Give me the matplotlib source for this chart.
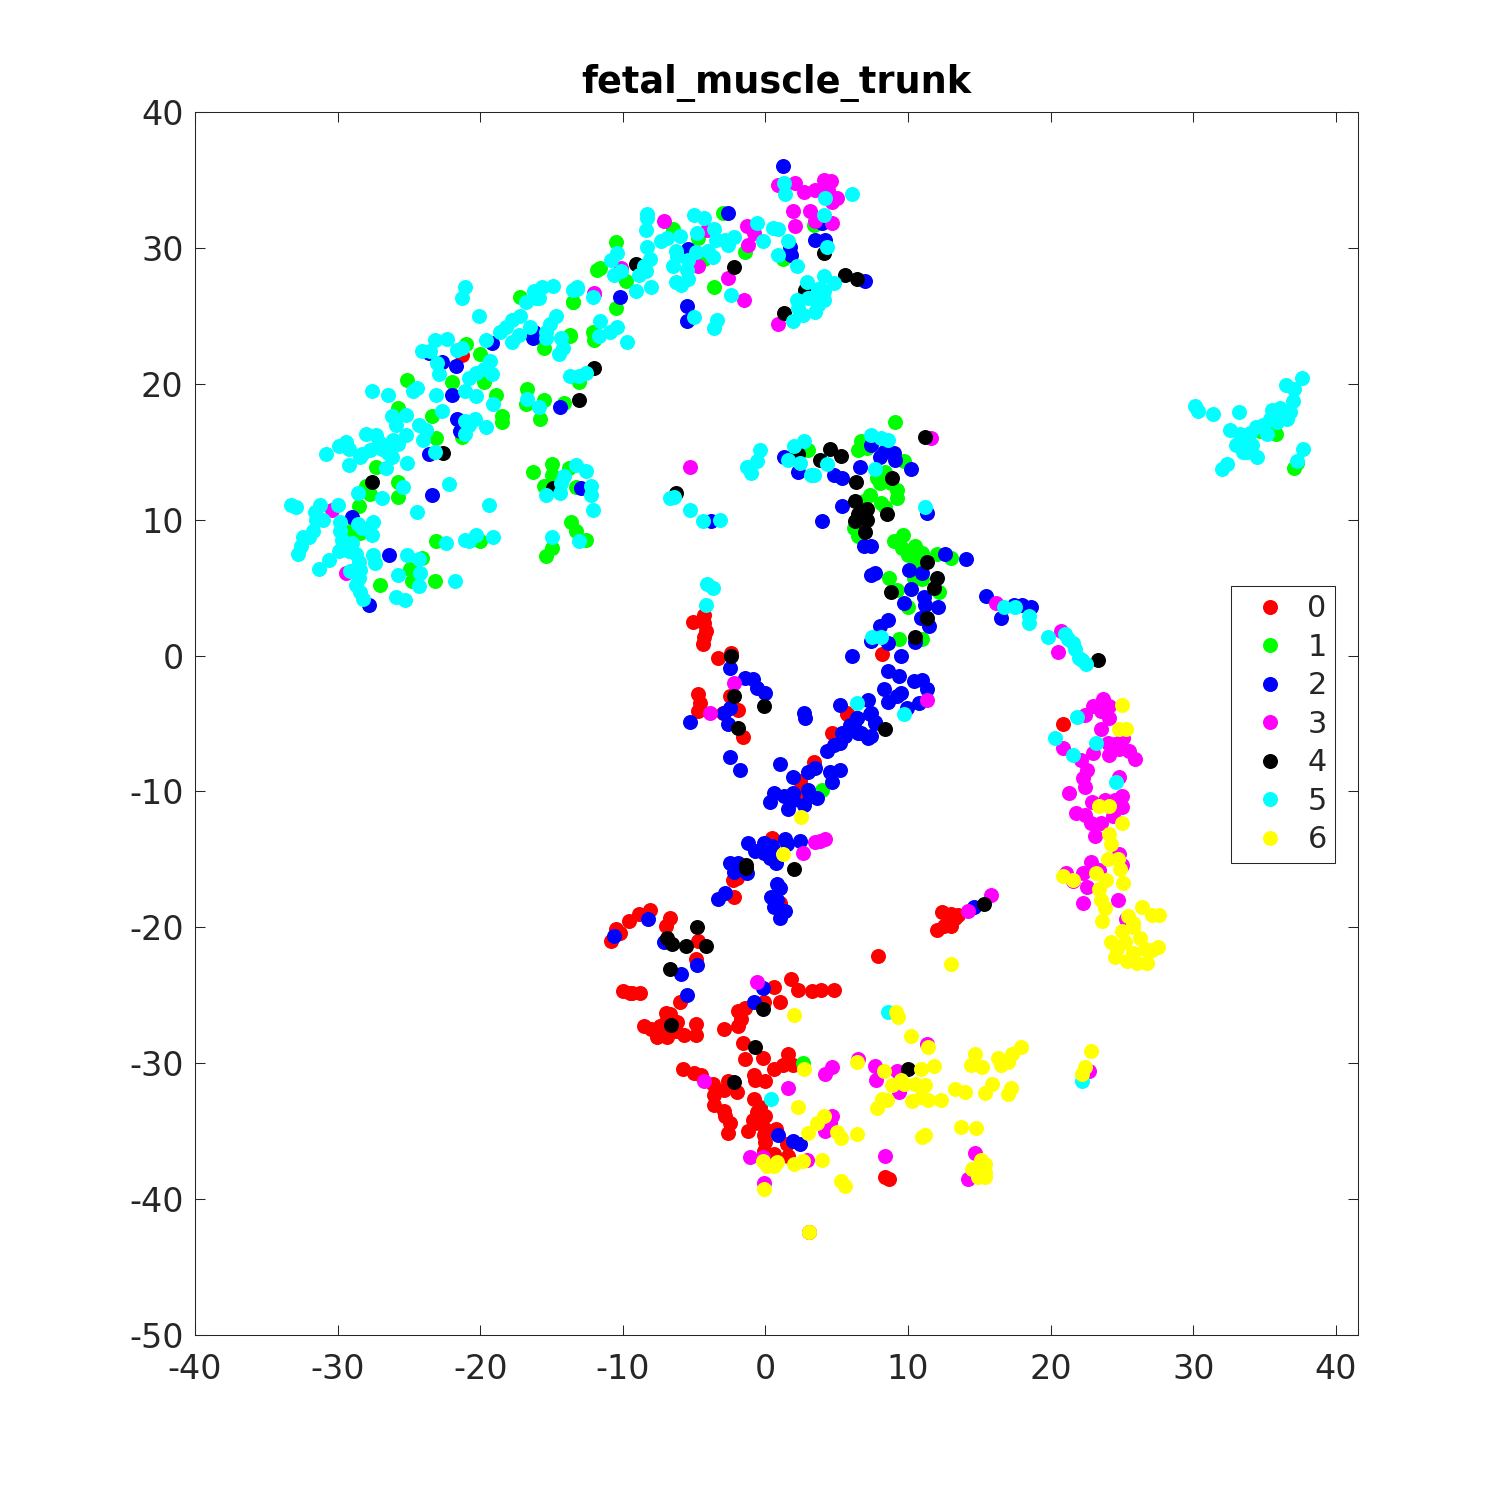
import matplotlib
matplotlib.use('Agg')
import matplotlib.pyplot as plt
import numpy as np

plt.rcParams['axes.unicode_minus'] = False

labels = ['0', '1', '2', '3', '4', '5', '6']
colors = ['#ff0000', '#00ff00', '#0000ff', '#ff00ff', '#000000', '#00ffff', '#ffff00']

pts0 = [(-21.3,22.1),(-5.1,2.5),(-4.3,3),(-4.3,2.4),(-4.2,1.8),(-4.3,1.4),(-4.4,0.85),(-3.3,-0.2),(-2.4,0.2),(8.2,0.1),
        (-4.7,-2.8),(-4.6,-3.5),(-4.7,-4.1),(-3,-4.2),(-1.9,-4),(-2.45,-2.95),(-1.6,-6),(5.7,-4.2),(4.7,-5.7),(3.4,-7.8),
        (5.7,-4.3),(2.45,-9.2),(2.3,-10.2),(0.46,-13.4),(-2.3,-16.5),(-2,-16.35),(-2.2,-17.8),(1.05,-18.2),(-10.8,-21),
        (-10.5,-20.15),(-10.2,-20.4),(-9.6,-19.5),(-8.9,-19),(-8.1,-18.7),(-6.7,-19.3),(-6.95,-19.9),(-4.7,-21),(-4.9,-22.3),
        (7.9,-22.1),(-10,-24.7),(-9.5,-24.8),(-8.8,-24.8),(-9.35,-24.8),(-6,-25.5),(-7,-26.3),(-6.7,-26.4),(-8.5,-27.25),
        (-8,-27.5),(-7.6,-28.1),(-6.9,-28.1),(-7.4,-27.25),(-6.2,-27),(-5.7,-27.9),(-4.9,-27.1),(-4.9,-27.9),(-6.3,-27.6),
        (-7,-27),(-2.9,-27.5),(-1.9,-26.15),(-1.4,-25.9),(-1.7,-26.75),(-1.9,-27.25),(-0.1,-25.5),(0.6,-24.4),(1.05,-25.5),
        (1.8,-23.8),(2.3,-24.6),(3.3,-24.7),(3.9,-24.6),(4.8,-24.6),(-1.6,-28.5),(-1.4,-29.7),(-0.2,-29.6),(-0.8,-30.9),
        (-0.7,-31.2),(0,-31.3),(0.6,-30.4),(1.2,-30.1),(1.6,-29.3),(1.9,-30.1),(-5.8,-30.4),(-5,-30.7),(-4.5,-30.9),
        (-3.7,-31.5),(-2.6,-31.3),(-2,-32.1),(-2.9,-32),(-3.6,-32.35),(-3.6,-33.1),(-2.9,-33.5),(-2.8,-33.9),(-2.5,-34.4),
        (-2.6,-35.15),(-0.8,-32.6),(-0.35,-33.25),(-0.6,-33.6),(0,-33.9),(-0.9,-34.2),(-0.7,-34.4),(-1.25,-35),(0,-34.85),
        (0.75,-34.85),(-0.1,-35.3),(0,-35.8),(-0.1,-36.45),(0.6,-36.7),(1.6,-36.8),(1.5,-35.95),(8.65,-38.5),(8.4,-38.4),
        (12,-20.2),(12.4,-18.9),(12.8,-19.8),(13,-19.9),(13.3,-19.3),(13.5,-19.1),(12.5,-19.9),(13,-19),(20.9,-5),(3.05,-42.45)]

pts1 = [(-25.1,20.3),(-21,22.9),(-20,22.2),(-22,20.1),(-19.7,20.1),(-18.9,19.2),(-23.4,17.6),(-25.8,18.2),(-23.1,16),
        (-18.5,17.6),(-18.5,17.2),(-21.3,16.1),(-17.2,26.4),(-13.5,26),(-11.8,28.4),(-15.5,22.6),(-13.7,23.6),(-12,23.7),
        (-12,23.2),(-13.1,20.1),(-16.7,19.6),(-15.5,18.8),(-16.8,18.5),(-15.8,17.4),(-14.1,18.6),(-27.3,13.9),(-25.8,12.8),
        (-25.8,11.7),(-28,12.5),(-27.7,11.9),(-28.5,11),(-29.1,9.2),(-28.4,9),(-23.1,8.4),(-20,8.4),(-24.1,7.2),(-24.9,6.4),
        (-24.8,5.5),(-23.2,5.5),(-27,5.2),(-16.3,13.5),(-15,14.1),(-15,13.3),(-13.8,13.8),(-15.5,12.5),(-13.3,12.4),
        (-13.6,9.8),(-13.3,9.2),(-12.6,8.5),(-15,7.9),(-15.4,7.3),(-10.5,30.4),(-11.6,28.5),(-9.8,27.6),(-10.5,25.6),
        (-13.5,26),(-6.5,31.4),(-4.7,30.7),(-4.3,29.2),(-3.6,27.1),(-1.4,29.7),(-3,32.6),(1.2,29.2),(3.4,31.7),(-13.7,23.5),
        (-12.1,23.8),(9.1,17.2),(6.7,15.8),(6.5,15.1),(7.1,15.3),(9.7,14.3),(3,15.1),(8.4,13.5),(7.8,13.1),(8,12.7),(8.8,12.7),
        (9.2,12.2),(9.2,11.6),(7.3,11.8),(6.9,11.4),(8.1,11.2),(8.4,10.9),(6.2,9.4),(6.5,8.8),(9,8.4),(9.65,8.9),(9.6,7.9),
        (10.5,8.1),(10,7.4),(11,7.55),(10.5,6.9),(12,7.5),(13,7.2),(10.4,5.7),(11,5.6),(8.7,5.7),(9.2,4.85),(12.2,4.7),
        (10,3.55),(9.4,1.2),(11,1.2),(4,-9.9),(2.6,-30),(37.1,13.8),(37.3,14.2),(35.5,16.8),(34.7,16.5),(35.8,16.3)]

pts2 = [(-19.2,23),(-23.6,22.3),(-22.7,21.6),(-21.7,21.3),(-22,19.2),(-21.6,17.4),(-21.4,16.5),(-16.2,23.8),(-16.3,23.4),
        (-14.4,18.3),(-23.6,14.8),(-23.4,11.8),(-29,10.2),(-26.4,7.4),(-27.8,3.7),(-12.9,12.3),(1.2,36),(-2.6,32.6),(-5.4,29.9),
        (-10.2,26.4),(-5.5,25.7),(-5.5,24.6),(1.7,30.1),(1.8,29.5),(3.5,30.6),(4.2,30.6),(7,27.6),(4,31.8),(1.3,14.6),(2.3,13.5),
        (4.8,13.3),(5.4,13.1),(6.6,13.9),(7.4,15.5),(8,14.6),(8.3,15),(9,14.9),(9.1,14.4),(10.2,13.7),(5.4,11),(4,9.9),(6.9,8.1),
        (7.4,8.1),(-3.8,9.9),(11.3,10.5),(12.6,7.5),(14.1,7.1),(7.4,5.9),(7.7,6.1),(10.1,6.3),(11,6.1),(10.2,4.9),(9.7,3.9),
        (11.1,4.3),(11.2,3.7),(12.1,3.6),(10.9,2.8),(11.5,2.15),(8.6,2.6),(8,2.15),(7.4,1.05),(8.6,0.9),(10.5,1),(6.1,0),(9.5,0),
        (8.6,-1.15),(9.4,-1.5),(10.4,-1.9),(11,-1.8),(11.3,-2.45),(8.3,-2.45),(8.6,-3.4),(9.2,-3),(9.5,-2.75),(10.75,-3.5),
        (9.9,-3.85),(-2.45,-0.9),(-1.45,-1.65),(-0.9,-1.75),(-0.6,-2.35),(-0.05,-2.75),(-2.45,-3.85),(-2.9,-4.2),(-2.6,-5),
        (-5.3,-4.9),(2.7,-4.2),(2.8,-4.6),(5.2,-3.6),(7.2,-3.3),(7.4,-4.2),(7.65,-4.9),(6.4,-4.6),(5.96,-5.1),(5.4,-5.7),(6.7,-5.7),
        (7.4,-5.9),(-2.5,-7.5),(-1.8,-8.4),(1.05,-8),(4.3,-7.04),(4.8,-6.55),(5.25,-6.4),(5.6,-5.9),(5.85,-5.45),(6.2,-5.2),
        (6.5,-5.7),(7.2,-6.05),(6.4,-4.6),(7.35,-4.3),(7.7,-4.95),(3.5,-8.3),(3,-8.6),(1.9,-8.9),(5.25,-8.4),(4.5,-8.6),(4.7,-9.3),
        (0.6,-10.1),(0.35,-10.8),(1.3,-10.35),(1.9,-10.1),(1.9,-10.6),(1.6,-11.3),(3,-9.9),(3.15,-10.35),(3.65,-10.5),(2.7,-11),
        (-1.2,-13.8),(-0.7,-14.4),(-0.1,-13.8),(0.46,-14),(1.4,-13.5),(1.5,-13.9),(2.4,-13.65),(-0.1,-14.5),(0.35,-14.9),
        (0.75,-15.3),(-2.5,-15.3),(-1.9,-15.25),(-2.2,-15.9),(-1.3,-16),(-2.8,-17.45),(-3.3,-17.9),(0.8,-16.8),(1,-17.1),
        (0.4,-17.75),(0.8,-18),(0.6,-18.5),(1.4,-18.8),(1.05,-19.3),(-8.2,-19.4),(-10.6,-20.6),(-7.1,-21.1),(-4.8,-22.8),
        (-5.9,-23.4),(-5.5,-25),(-0.2,-24.5),(0.9,-35.3),(1.9,-35.75),(2.45,-35.95),(-0.8,-25.5),(14.6,-18.5),(15.5,4.4),
        (16.5,2.8),(17.4,3.75),(18.6,3.6),(18,3.7)]

pts3 = [(-12,26.6),(-30.4,10.7),(-29.4,6.1),(-7.1,32),(-10.1,28.5),(-12,26.7),(-4.1,31.3),(-4.7,28.7),(-2.6,27.8),(-1.5,26.2),
        (-1.3,31.6),(-0.8,31.1),(-1.2,30.2),(0.9,34.6),(2.1,34.8),(2.7,34.1),(3.5,34.3),(4.1,35),(4.6,34.9),(4.4,34.3),(5,33.7),
        (4.7,33.4),(1.9,32.7),(3.1,32.7),(2.1,31.6),(3.5,32),(4.7,31.8),(0.9,24.4),(-5.3,13.9),(11.6,16),(-2.2,-2),(11.3,-3.3),
        (-3.9,-4.2),(2.6,-14.5),(3.5,-13.7),(3.85,-13.65),(4.2,-13.5),(-0.6,-24),(-4.3,-31.3),(1.6,-31.8),(4.7,-30.3),(4.2,-30.8),
        (6.5,-29.7),(7.7,-30.2),(7.75,-31.2),(9.2,-30.55),(9.4,-32.1),(4.7,-33.9),(4.55,-34.4),(4.2,-35),(-1.05,-36.9),(2.9,-37.1),
        (-0.1,-38.8),(8.4,-36.85),(-0.2,-36.9),(14.7,-36.6),(14.2,-38.5),(22.7,-30.6),(11.3,-28.6),(14.2,-18.8),(15.85,-17.65),
        (16.2,3.9),(20.7,1.8),(20.5,0.3),(23.7,-3.2),(23,-3.7),(23.5,-4.1),(24.1,-3.7),(24.1,-4.6),(22.4,-4.4),(23.5,-5.4),(23,-7.15),
        (24.1,-7.35),(24,-6.4),(24.5,-6.5),(25.1,-6.05),(24.8,-6.9),(25.5,-7),(25.9,-7.6),(20.9,-6.8),(22.15,-7.7),(22.55,-8.4),
        (22.25,-9),(22.4,-9.7),(21.3,-10.1),(24.8,-8.9),(25,-10.3),(24.5,-10.6),(25,-11.15),(24.4,-11.8),(22.9,-10.75),(23.8,-10.6),
        (21.8,-11.6),(22.4,-11.7),(22.8,-12.3),(23.5,-12.3),(23.1,-13.3),(22.8,-15.2),(24.8,-14.6),(25,-15.4),(23.4,-15.8),
        (22.3,-16),(22.55,-17),(22.3,-18.2),(24.7,-18),(21.1,-16),(21.6,-16.6),(25.25,-19.4)]

pts4 = [(-12,21.2),(-13.1,18.8),(-22.6,14.9),(-27.6,12.8),(-14.9,12.3),(-9.1,28.8),(-2.2,28.6),(1.3,25.2),(4.1,29.6),(5.6,28),
        (6.4,27.7),(2.8,26.9),(-6.3,12),(11.2,16.1),(4.55,15.2),(3.8,14.4),(5.3,14.7),(2.3,14.8),(6.35,12.8),(8.9,13.1),(6.3,11.4),
        (7.1,10.8),(6.5,10.4),(6.3,9.9),(7.1,10),(7,9.1),(8.5,10.4),(11.3,6.9),(12,5.7),(11.85,5),(8.8,4.65),(11.3,2.8),(10.5,1.4),
        (-2.4,0),(-2.2,-2.95),(-0.1,-3.7),(-1.9,-5.3),(8.4,-5.4),(-4.8,-20),(-6.9,-20.8),(-6.55,-21.2),(-5.55,-21.4),(-4.2,-21.4),
        (-6.7,-23.1),(2,-15.7),(-1.35,-15.4),(-1.35,-15.6),(-6.6,-27.2),(-0.2,-26),(-0.7,-28.8),(-2.2,-31.35),(10,-30.4),
        (15.35,-18.3),(23.35,-0.3)]

pts5 = [(-33.3,11.1),(-32.9,10.9),(-31.2,11.1),(-30,11.1),(-31.6,10.6),(-31,10),(-31.5,10),(-31.7,9.2),(-32,8.7),(-32.4,8.7),
        (-32.6,8.1),(-32.8,7.5),(-30.6,7),(-31.3,6.4),(-29.8,9.8),(-29.8,9.2),(-29.7,8.5),(-29,8.3),(-29.9,7.7),(-29.2,7.7),
        (-28.7,7.5),(-28.5,6.9),(-28.4,6.3),(-29.1,6.2),(-28.5,5.7),(-28.7,5.2),(-28.4,4.7),(-28.2,4.2),(-28.6,9.7),(-27.5,9.8),
        (-28.3,9.4),(-27.6,8.9),(-27.5,7.4),(-27.4,6.8),(-25.1,7.4),(-24.3,7.1),(-24.2,6.1),(-25.8,5.9),(-24.3,5.1),(-25.9,4.3),
        (-25.3,4.1),(-21.8,5.5),(-24.4,10.6),(-22.4,8.3),(-21.1,8.5),(-20.8,8.4),(-20.3,8.9),(-19.1,8.7),(-19.4,11.1),(-22.2,12.6),
        (-28.6,12),(-26.9,11.6),(-25.4,12.4),(-26.6,13.8),(-29.2,14),(-30.8,14.8),(-29.9,15.4),(-29.4,15.7),(-29.2,15.2),(-28.4,14.6),
        (-28.3,14.8),(-27.7,15.1),(-28,16.3),(-27.3,16.2),(-27.1,15.7),(-26.9,15.2),(-26.5,14.9),(-26.2,14.6),(-26.1,15.9),
        (-25.8,15.6),(-25.2,16.2),(-25.1,14.2),(-26.2,17.6),(-25.9,17),(-25.2,17.7),(-24.3,17),(-23.8,16.6),(-24,15.9),(-22.7,18),
        (-23.2,15),(-27.6,19.5),(-26.5,19.2),(-24.7,19.5),(-24.4,19.7),(-23.1,19.2),(-19.1,18.5),(-21.1,19.5),(-20.3,19.1),
        (-21.1,17.3),(-20.4,17.4),(-20.8,17),(-21.1,16.3),(-19.6,16.8),(-22.9,20.7),(-23,21.5),(-24.1,22.4),(-23.5,22.4),(-23.2,23.2),
        (-22.3,23.3),(-21.6,22.5),(-21.3,22.6),(-19.6,23.2),(-19.3,21.7),(-19.7,21.1),(-19.2,20.7),(-20.3,20.8),(-20.8,20.4),
        (-20.1,25),(-21.3,26.3),(-21.1,27.1),(-18.6,23.8),(-18.2,24.2),(-17.8,24.7),(-17.2,25),(-17.8,23.1),(-17.3,23.6),(-16.5,24.2),
        (-16.8,26),(-16.1,26.3),(-15.9,26.3),(-16.2,26.8),(-15.7,27.1),(-14.9,27.2),(-13.5,26.9),(-13.2,27),(-12.1,26.4),(-14.7,25),
        (-15.1,24.4),(-15.4,23.8),(-15.4,23.4),(-14.3,23.4),(-14.2,22.6),(-14.5,22.2),(-13.7,20.6),(-13.1,20.6),(-12.6,20.8),
        (-16.7,18.9),(-15.9,18.3),(-11.7,23.5),(-13.3,14),(-12.6,13.6),(-14.1,13.2),(-14.3,12.7),(-14.4,12),(-15.4,11.8),(-12.2,12.5),
        (-12.2,11.8),(-12.1,10.7),(-15,8.7),(-13.1,8.4),(-13.2,27.1),(-11.6,24.6),(-10.9,23.8),(-10.4,24.2),(-9.7,23.1),(-9.1,26.8),
        (-8,27.1),(-10.4,29.6),(-10.8,29.1),(-10.6,28),(-10.1,28.3),(-8.9,28),(-8.4,28.3),(-8.5,28.7),(-8.1,29.2),(-8.3,30.1),
        (-8.4,31.3),(-8.3,32.5),(-8.3,32.2),(-7.3,30.5),(-6.9,30.7),(-6,30.9),(-6.3,29.8),(-6.2,29.4),(-6.5,28.7),(-5.5,28.4),
        (-5.4,29.1),(-4.9,29.7),(-6.3,27.5),(-5.9,27.3),(-5.4,27.7),(-5,32.4),(-4.3,32.2),(-4.8,31.1),(-3.6,31.4),(-3.7,29.3),
        (-4,29.8),(-3.5,30.6),(-2.8,30.6),(-2.6,30.2),(-2.2,30.8),(-2.4,26.5),(-3.4,24.7),(-3.6,24.1),(-5,24.9),(-0.6,31.8),(-0.2,30.5),
        (0.5,31.5),(0.9,31.4),(1.6,30.5),(0.9,29.5),(2.2,28.7),(1.3,34.8),(1.4,34),(4.2,33.7),(6.1,34),(4.1,32.4),(4.3,30.1),(2.9,27.5),
        (4.1,27.9),(4.8,27.4),(3.7,27),(4.1,26.8),(2.2,26.2),(4.1,26.2),(2.6,25.1),(3.5,25.3),(3.7,25.8),(1.9,24.6),(2.3,25.6),(3,26.3),
        (3.4,26.4),(-6.7,11.6),(-6.4,11.7),(-5.3,10.7),(-4.4,9.9),(-3.2,10),(-0.35,15.1),(-0.6,14.3),(-1.3,13.9),(-1,13.4),(2,15.4),
        (2.7,15.8),(1.6,14.4),(2.45,14.2),(3.2,13.3),(3.4,13.3),(4.3,14.1),(7.4,16.2),(8.1,16),(8.6,15.9),(7.7,13.7),(11.2,10.9),
        (-4.1,5.3),(-3.7,5),(-4.2,3.7),(7.5,1.4),(8.1,1.35),(6.4,-3.5),(9.7,-4.3),(0.4,-32.65),(8.6,-26.2),(22.2,-31.3),(16.7,3.6),
        (17.5,3.6),(18.5,2.9),(18.5,2.4),(19.8,1.4),(21,1.6),(21.2,1.2),(21.6,0.95),(21.7,0.5),(22,-0.15),(22.45,-0.6),(22.2,-0.3),
        (21.85,-4.5),(20.3,-6.1),(21.6,-7.3),(23.2,-6.4),(24.6,-9.3),(30.1,18.4),(30.3,18),(31.4,17.8),(32,13.7),(32.4,14.1),(32.6,16.6),
        (33,15.5),(33.2,17.9),(33.3,16.3),(33.5,15),(33.7,15.7),(34,16.4),(34.1,15.5),(34.4,16.8),(34.5,14.6),(34.9,17),(35.2,16.3),
        (35.4,17.4),(35.5,18.1),(35.9,17.2),(36.1,18.2),(36.3,17.9),(36.5,19.9),(36.6,17.4),(37,18.7),(37.1,19.6),(37.6,20.4),
        (37.7,15.2),(37.3,14.3),(36.8,17.9),(33.8,15),(33.4,15.8)]

pts6 = [(2.5,-11.9),(1.2,-14.6),(2,-26.45),(9.15,-26.2),(9.3,-26.6),(10.2,-28),(6.4,-29.9),(2.7,-30.4),(8.3,-30.55),(8.9,-31.6),
        (9.5,-31.2),(9.7,-31.5),(2.3,-33.2),(4.1,-33.9),(3.6,-34.4),(3,-35.1),(5,-35.05),(5.3,-35.5),(6.4,-35.2),(7.8,-33.3),(8.2,-32.65),
        (8.5,-32.7),(-0.2,-37.2),(0.1,-37.55),(0.6,-37.55),(0.8,-37.3),(2,-37.4),(2.6,-37.2),(4,-37.1),(-0.1,-39.25),(5.3,-38.65),
        (5.55,-39.05),(3.05,-42.45),(11.4,-28.8),(11.8,-30.2),(10.9,-30.4),(10.5,-31.5),(11.2,-31.6),(10.3,-32.8),(10.9,-32.5),
        (11.4,-32.7),(12.3,-32.7),(13.3,-31.9),(14,-32.1),(14.7,-29.3),(14.4,-30.1),(15.2,-30.3),(15.4,-32.2),(15.9,-31.5),(16.5,-30.1),
        (16.3,-29.6),(17,-29.9),(17.3,-29.3),(17.9,-28.8),(17,-32.3),(17.2,-31.8),(13.7,-34.7),(14.8,-34.8),(11,-35.4),(11.2,-35.3),
        (14.5,-37.8),(15.1,-37.1),(15.4,-37.4),(15.4,-38.4),(14.9,-38.4),(15.4,-38),(22.2,-30.8),(22.4,-30.3),(22.8,-29.1),(13,-22.7),
        (25,-3.65),(24.8,-5.4),(25.3,-5.4),(23.4,-11.1),(24.1,-11.1),(25,-12.3),(24.1,-13.15),(24.2,-13.9),(24,-15),(24.7,-15),(24.85,-15.7),
        (23.15,-16),(23.9,-16.5),(23.4,-17.15),(25.1,-16.7),(23.55,-18),(23.8,-18.6),(23.6,-19.5),(20.9,-16.2),(21.55,-16.5),(26.4,-18.5),
        (27.1,-19.1),(27.6,-19.1),(25.4,-19.2),(25.8,-19.65),(25.8,-20),(25,-20.3),(24.2,-21.1),(26.3,-20.75),(25.2,-21.1),(27.5,-21.45),
        (27.1,-21.7),(24.5,-22.2),(25.35,-22.5),(26.05,-22.6),(26.75,-22.6),(25.8,-21.9),(24.65,-21.6),(26.6,-21.6)]

groups = [pts0, pts1, pts2, pts3, pts4, pts5, pts6]

fig = plt.figure(figsize=(10, 10), dpi=150)
ax = fig.add_axes([0.13, 0.11, 0.7753, 0.8153])

for pts, c, lab in zip(groups, colors, labels):
    p = np.array(pts)
    ax.plot(p[:, 0], p[:, 1], 'o', color=c, ms=7.2, mew=0, label=lab)

ax.set_xlim(-40, 41.55)
ax.set_ylim(-50, 40)
ax.set_xticks(np.arange(-40, 41, 10))
ax.set_yticks(np.arange(-50, 41, 10))
ax.tick_params(direction='in', top=True, right=True, length=5, width=0.5,
               labelsize=16, labelcolor='#262626', color='#262626')
ax.tick_params(axis='x', pad=8.5)
ax.tick_params(axis='y', pad=5.5)
for s in ax.spines.values():
    s.set_linewidth(0.5)
    s.set_color('#262626')

ax.set_title('fetal_muscle_trunk', fontsize=17.6, fontweight='bold', pad=9)

leg = ax.legend(loc='upper left', bbox_to_anchor=(0.8908, 0.6125), fontsize=14.5, frameon=True,
                fancybox=False, framealpha=1, edgecolor='#262626', borderaxespad=0,
                labelspacing=0.315, handletextpad=0.2, borderpad=0.28, handlelength=2.05)
leg.get_frame().set_linewidth(0.5)
for t in leg.get_texts():
    t.set_color('#262626')

fig.savefig('out.png', dpi=150)
